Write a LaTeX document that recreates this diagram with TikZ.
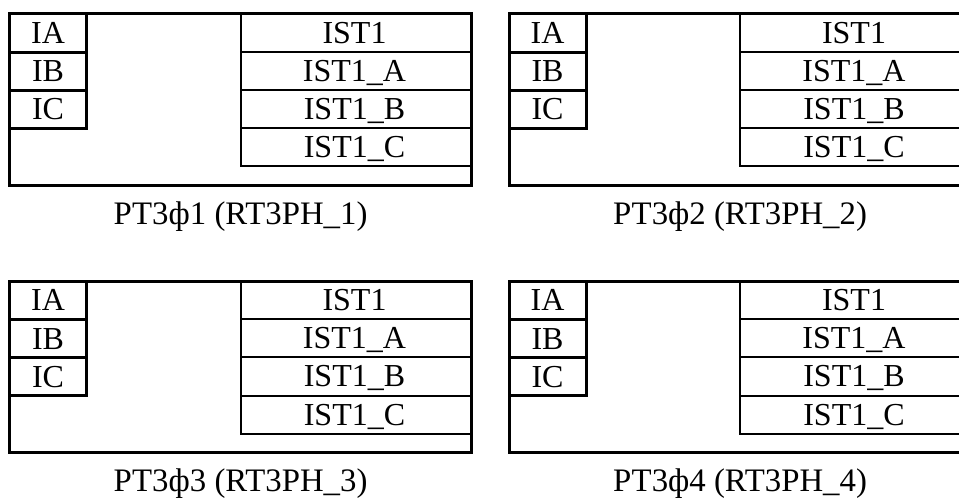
\documentclass[tikz,border=0pt]{standalone}
\usepackage{fontspec}
\setmainfont{Liberation Serif}
\begin{document}
\begin{tikzpicture}[x=0.75pt,y=-0.75pt,
  frame/.style={line width=2.25pt, line cap=rect, line join=miter},
  grid/.style={line width=1.5pt},
  celltext/.style={inner sep=0pt, text height=15.9pt, text depth=0pt,
    font=\fontsize{24}{29}\selectfont},
  captext/.style={inner sep=0pt, anchor=base, font=\fontsize{24.6}{29}\selectfont}]
\useasboundingbox (0,0) rectangle (959,497);
% four relay blocks: index / left / top
\foreach \n/\bx/\by in {1/9.5/13.5, 2/509/13.5, 3/9.5/281, 4/509/281} {
  \begin{scope}[shift={(\bx,\by)}]
    % outer frame
    \draw[frame] (0,0) rectangle (462,171.5);
    % input column
    \draw[frame] (77,0) -- (77,114.5) -- (0,114.5);
    \draw[frame] (0,38.5) -- (77,38.5);
    \draw[frame] (0,76.5) -- (77,76.5);
    % output table
    \draw[grid] (462,152.5) -- (231,152.5) -- (231,0);
    \draw[grid] (231,38) -- (462,38);
    \draw[grid] (231,76) -- (462,76);
    \draw[grid] (231,114.5) -- (462,114.5);
    % input labels
    \node[celltext] (ia\n) at (38.5,19.25) {IA};
    \node[celltext] (ib\n) at (38.5,57.5) {IB};
    \node[celltext] (ic\n) at (38.5,95.5) {IC};
    % output labels
    \node[celltext] (st\n) at (345,19) {IST1};
    \node[celltext] (sta\n) at (345,57) {IST1\_A};
    \node[celltext] (stb\n) at (345,95.25) {IST1\_B};
    \node[celltext] (stc\n) at (345,133.5) {IST1\_C};
    % block caption
    \node[captext] (cap\n) at (231,210.5) {РТ3ф\n\ (RT3PH\_\n)};
  \end{scope}
}
\end{tikzpicture}
\end{document}
